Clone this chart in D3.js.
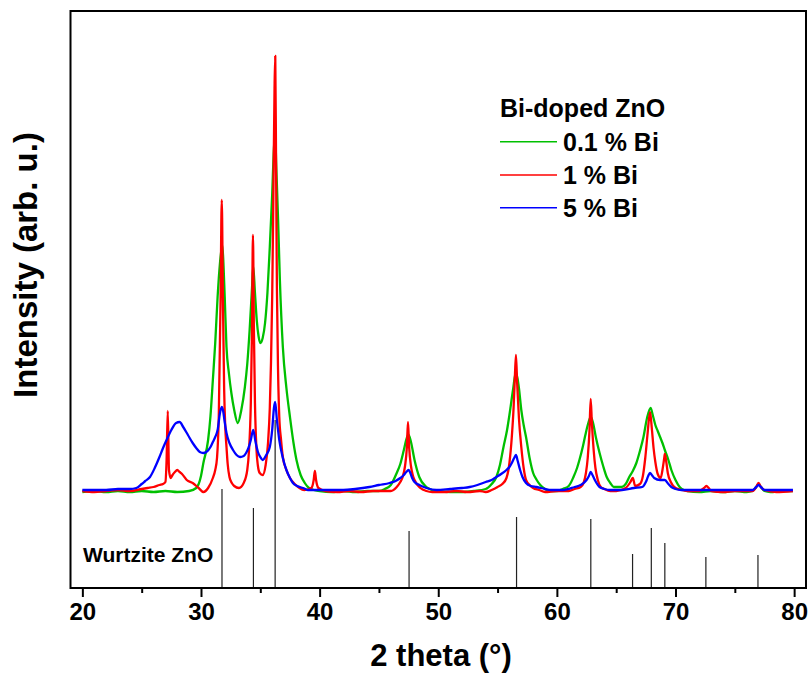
<!DOCTYPE html>
<html>
<head>
<meta charset="utf-8">
<script src="https://cdn.jsdelivr.net/npm/d3@7"></script>
<style>
  html, body { margin: 0; padding: 0; background: #fff; }
  svg { display: block; font-family: "Liberation Sans", Arial, sans-serif; }
</style>
</head>
<body>
<svg id="chart" width="810" height="673"></svg>
<script>
// ---- Data (2θ in degrees, intensity in arb. units) ----
const seriesNames = ["0.1 % Bi", "1 % Bi", "5 % Bi"];
const seriesColors = ["#00c000", "#ff0000", "#0000ff"];

const bi01 = [
  [20.0,96],[21.0,97],[22.0,96],[23.0,97],[24.0,96],[25.0,97],[26.0,96],[27.0,97],[28.0,96],[29.0,97],
  [29.6,100],[30.0,112],[30.2,125],[30.6,148],[30.8,172],
  [31.0,208],[31.2,245],[31.4,291],[31.6,325],[31.8,343],[31.9,322],[32.0,291],[32.15,241],[32.35,215],[32.56,195],
  [32.8,178],[33.1,165],[33.4,178],[33.7,201],[33.9,224],[34.1,258],[34.3,300],[34.4,322],[34.55,295],[34.7,268],
  [34.85,252],[35.0,245],[35.2,250],[35.4,265],[35.6,295],[35.8,341],[36.0,393],[36.15,440],[36.25,453],[36.35,420],
  [36.5,368],[36.65,308],[36.9,241],[37.2,200],[37.5,171],[37.8,145],[38.05,128],[38.4,113],[38.75,105],
  [39.1,100],[39.5,98],[40.0,97],[41.0,96],[42.0,97],[43.0,96],[44.0,97],[45.0,97],[45.5,99],[46.0,103],
  [46.5,115],[46.8,124],[47.1,138],[47.35,150],[47.5,153],[47.7,146],[48.0,128],[48.4,111],
  [49.0,101],[49.5,98],[50.0,97],[51.0,96],[52.0,96],[53.0,97],[54.0,99],[54.5,104],[54.9,111],[55.2,123],
  [55.5,141],[55.8,158],[56.0,173],[56.3,198],[56.55,216],[56.8,200],[57.0,178],[57.2,163],
  [57.4,151],[57.7,130],[58.0,115],[58.3,108],[58.6,103],[59.0,99],[59.5,97],[60.0,97],[60.5,99],[61.0,102],
  [61.4,111],[61.7,120],[61.9,128],[62.2,142],[62.4,153],[62.65,165],[62.85,171],[63.05,165],
  [63.3,150],[63.6,135],[63.9,122],[64.2,111],[64.5,105],[64.8,101],[65.45,101],[65.8,104],[66.1,111],
  [66.4,117],[66.7,125],[67.0,137],[67.3,151],[67.6,170],[67.9,180],[68.1,172],[68.3,163],[68.5,157],
  [68.7,151],[68.9,145],[69.1,138],[69.4,128],[69.65,118],[70.0,108],[70.35,101],[70.7,98],[71.0,97],
  [72.0,96],[73.0,97],[74.0,96],[75.0,97],[76.0,96],[76.5,97],[76.8,101],
  [77.0,104],[77.2,101],[77.5,97],[78.0,96],[79.0,97],[79.9,97]
];

const bi1 = [
  [20.0,97],[21.0,96],[22.0,97],[23.0,98],[24.0,97],[25.0,99],[25.5,100],[26.0,101],[26.5,103],[26.8,104],[27.0,106],
  [27.1,128],[27.2,177],[27.3,118],[27.45,110],[27.6,113],
  [27.8,116],[28.0,118],[28.2,116],[28.4,114],[28.8,108],[29.3,105],[29.8,100],[30.2,96],[30.6,100],[31.0,110],
  [31.2,118],[31.35,130],[31.5,172],[31.65,288],[31.75,388],[31.85,288],[31.95,200],[32.05,160],[32.15,141],[32.25,124],[32.4,111],
  [32.6,105],[32.8,102],[33.2,100],[33.6,105],[33.9,118],[34.05,138],[34.2,185],[34.3,258],[34.38,353],[34.46,258],[34.55,185],
  [34.67,140],[34.8,122],[34.95,115],[35.2,113],[35.45,123],[35.65,145],[35.8,180],[35.9,225],[36.0,290],[36.1,390],[36.2,500],[36.26,532],
  [36.33,420],[36.4,300],[36.5,215],[36.6,171],[36.75,148],[36.9,131],[37.2,118],[37.5,110],[37.9,104],[38.3,100],[38.7,98],[39.3,100],[39.5,108],[39.6,117],[39.7,108],[39.9,100],
  [40.5,97],[41.5,96],[42.5,97],[43.5,96],[44.5,97],[45.5,97],[46.0,97],[46.5,101],[46.8,106],[47.0,111],[47.2,122],[47.35,140],[47.45,166],[47.55,140],[47.7,122],[47.85,113],[48.0,108],
  [48.5,100],[49.0,97],[49.5,96],[50.5,96],[51.5,97],[52.5,96],[53.5,97],[54.0,96],[54.5,98],[55.0,101],[55.4,104],[55.75,110],[56.0,125],[56.2,151],[56.35,180],[56.45,208],[56.55,233],
  [56.65,205],[56.8,170],[57.0,141],[57.2,120],[57.4,108],[57.7,103],[58.0,100],[58.5,98],[59.0,96],[60.0,97],[61.0,97],[61.5,99],[62.0,101],[62.25,105],[62.45,115],[62.6,130],[62.75,158],
  [62.85,189],[62.95,165],[63.1,138],[63.25,120],[63.45,108],[63.7,101],[64.0,99],[64.5,97],[65.0,97],[65.8,100],[66.2,106],[66.4,110],[66.6,102],
  [67.0,104],[67.25,112],[67.45,130],[67.65,155],[67.85,176],[68.0,160],[68.15,140],[68.3,126],[68.5,114],[68.75,110],
  [68.9,118],[69.05,130],[69.1,134],[69.2,128],[69.35,115],[69.6,106],[70.0,100],[70.5,98],[71.0,97],[72.0,97],[72.4,100],[72.6,102],[72.8,100],[73.0,97],[74.0,96],[75.0,97],[76.5,97],[76.8,101],
  [77.0,105],[77.2,101],[77.5,98],[78.5,96],[79.9,97]
];

const bi5 = [
  [20.0,98],[21.0,98],[22.0,98],[23.0,99],[24.0,99],[24.55,100],[25.0,104],[25.3,107],[25.7,111],[26.1,120],[26.5,131],[26.8,140],[27.1,148],[27.5,158],
  [27.9,165],[28.2,166],[28.5,161],[28.9,153],[29.3,145],[29.6,140],[29.9,136],[30.2,135],[30.45,136],[30.8,141],[31.0,146],[31.2,151],[31.4,158],
  [31.6,175],[31.75,181],[31.85,178],[32.0,166],[32.15,155],[32.4,145],[32.7,138],[33.0,133],[33.3,131],[33.6,132],[33.8,135],[34.0,140],[34.2,148],[34.4,158],
  [34.6,146],[34.8,136],[35.0,131],[35.2,128],[35.5,133],[35.8,141],[36.0,158],[36.15,180],[36.25,186],[36.4,168],[36.6,148],
  [36.9,130],[37.2,118],[37.5,110],[37.75,105],[38.1,102],[38.6,100],[39.0,98],[39.5,98],[40.0,98],[41.0,98],[42.0,98],[43.0,99],[44.2,101],[45.0,103],[45.9,105],[46.4,107],[46.8,110],[47.1,113],[47.3,116],
  [47.5,118],[47.65,115],[47.8,110],[48.0,106],[48.4,103],[49.0,100],[49.85,98],[51.0,99],[52.0,100],[52.65,101],[53.3,103],[54.0,106],[54.5,108],[54.9,111],[55.3,114],[55.75,118],
  [56.0,121],[56.2,125],[56.4,130],[56.55,133],[56.7,127],[56.9,118],[57.1,111],[57.4,105],[57.8,102],[58.3,101],[59.0,99],[59.5,98],[60.5,98],[61.5,101],[62.0,103],[62.5,108],[62.7,112],
  [62.85,116],[63.0,113],[63.2,108],[63.6,101],[64.0,99],[64.5,98],[65.5,98],[66.5,100],[67.2,101],[67.5,106],[67.7,112],[67.85,115],[68.0,113],[68.2,110],
  [68.7,108],[69.1,108],[69.4,104],[69.65,101],[70.0,99],[70.5,98],[72.0,98],[73.0,98],[74.0,98],[75.0,98],[76.5,98],[76.8,101],[77.0,103],[77.2,101],[77.5,98],[78.5,98],[79.9,98]
];

// Wurtzite ZnO reference pattern (2θ, relative height)
const refPos    = [31.77, 34.42, 36.25, 47.54, 56.60, 62.86, 66.38, 67.96, 69.10, 72.56, 76.95];
const refHeight = [99, 80, 168, 57, 71, 69, 34, 60, 45, 31, 33];

const xTicks = [20, 30, 40, 50, 60, 70, 80];
const xMinorTicks = [25, 35, 45, 55, 65, 75];

// ---- Layout ----
const svg = d3.select("#chart");
const plot = { left: 70.5, right: 806, top: 11, bottom: 588 };

const x = d3.scaleLinear().domain([19, 81]).range([plot.left, plot.right]);
const y = d3.scaleLinear().domain([0, 577]).range([plot.bottom, plot.top]);

// reference sticks
svg.append("g").selectAll("line").data(refPos).join("line")
  .attr("x1", d => x(d)).attr("x2", d => x(d))
  .attr("y1", y(0)).attr("y2", (d, i) => y(refHeight[i]))
  .attr("stroke", "#222").attr("stroke-width", 1.2);

// curves
const line = d3.line().x(d => x(d[0])).y(d => y(d[1])).curve(d3.curveMonotoneX);
[bi01, bi1, bi5].forEach((s, i) => {
  svg.append("path").datum(s)
    .attr("d", line)
    .attr("fill", "none")
    .attr("stroke", seriesColors[i])
    .attr("stroke-width", 2.3)
    .attr("stroke-linejoin", "round");
});

// frame
svg.append("rect")
  .attr("x", plot.left).attr("y", plot.top)
  .attr("width", plot.right - plot.left).attr("height", plot.bottom - plot.top)
  .attr("fill", "none").attr("stroke", "#000").attr("stroke-width", 2);

// x axis
const xAxis = svg.append("g").attr("transform", `translate(0,${plot.bottom})`)
  .call(d3.axisBottom(x).tickValues(xTicks).tickSize(9).tickSizeOuter(0).tickPadding(6));
xAxis.select(".domain").remove();
xAxis.selectAll(".tick line").attr("stroke-width", 2);
xAxis.selectAll(".tick text")
  .attr("font-family", "Liberation Sans, Arial, sans-serif")
  .attr("font-weight", "bold").attr("font-size", 24).attr("fill", "#000");

const xMinor = svg.append("g").attr("transform", `translate(0,${plot.bottom})`)
  .call(d3.axisBottom(x).tickValues(xMinorTicks).tickSize(5).tickSizeOuter(0).tickFormat(""));
xMinor.select(".domain").remove();
xMinor.selectAll(".tick line").attr("stroke-width", 2);

// axis titles
svg.append("text")
  .attr("x", 441).attr("y", 666)
  .attr("text-anchor", "middle")
  .attr("font-weight", "bold").attr("font-size", 31)
  .text("2 theta (°)");

svg.append("text")
  .attr("transform", "translate(37,265) rotate(-90)")
  .attr("text-anchor", "middle")
  .attr("font-weight", "bold").attr("font-size", 33)
  .text("Intensity (arb. u.)");

// reference label
svg.append("text")
  .attr("x", 83).attr("y", 562)
  .attr("font-weight", "bold").attr("font-size", 21)
  .text("Wurtzite ZnO");

// legend
const legend = svg.append("g");
legend.append("text")
  .attr("x", 500).attr("y", 117)
  .attr("font-weight", "bold").attr("font-size", 25)
  .text("Bi-doped ZnO");
const rowY = [141.7, 175, 207.7];
seriesNames.forEach((n, i) => {
  legend.append("line")
    .attr("x1", 500).attr("x2", 557)
    .attr("y1", rowY[i]).attr("y2", rowY[i])
    .attr("stroke", seriesColors[i]).attr("stroke-width", 1.5);
  legend.append("text")
    .attr("x", 563).attr("y", rowY[i] + 9)
    .attr("font-weight", "bold").attr("font-size", 25)
    .text(n);
});
</script>
</body>
</html>
